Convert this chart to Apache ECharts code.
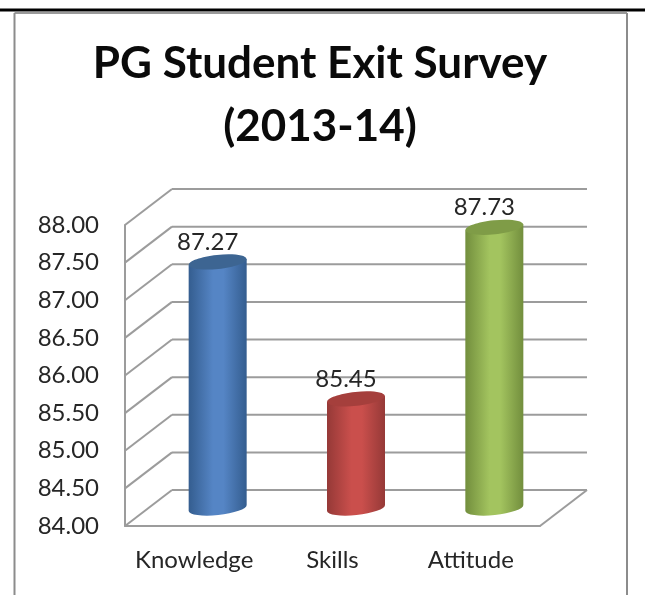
<!DOCTYPE html>
<html><head><meta charset="utf-8">
<style>html,body{margin:0;padding:0;background:#fff}#c{width:645px;height:595px}</style>
<script src="https://cdn.jsdelivr.net/npm/echarts@6/dist/echarts.min.js"></script>
</head><body><div id="c"></div>
<script>
const categories = ['Knowledge', 'Skills', 'Attitude'];
const values = [87.27, 85.45, 87.73];
const yTicks = [84, 84.5, 85, 85.5, 86, 86.5, 87, 87.5, 88];
const bodyLight = ['#5585c5', '#ca4f4c', '#a3c45f'];
const bodyDark = ['#345d8f', '#953937', '#728e3d'];
const capColor = ['#3d6592', '#a53f3c', '#7f9c47'];
const titleText = 'PG Student Exit Survey\n(2013-14)';

const DX = 47, DY = -36, LINE = '#9c9c9c';
const RX = 29, RY = 7, TILT = 3;

const chart = echarts.init(document.getElementById('c'), null, {renderer: 'canvas'});
chart.setOption({
  animation: false,
  backgroundColor: '#fff',
  title: {
    text: titleText, left: 315, top: 27, textAlign: 'center',
    textStyle: {fontFamily: 'Lato', fontWeight: 'bold', fontSize: 44, lineHeight: 63, color: '#0a0a0a'}
  },
  graphic: [
    {type: 'rect', silent: true, shape: {x: 0, y: 8.5, width: 645, height: 3}, style: {fill: '#000'}},
    {type: 'line', silent: true, shape: {x1: 14.5, y1: 13, x2: 627, y2: 13}, style: {stroke: '#9a9a9a', lineWidth: 2}},
    {type: 'line', silent: true, shape: {x1: 14.5, y1: 13, x2: 14.5, y2: 595}, style: {stroke: '#8c8c8c', lineWidth: 2}},
    {type: 'line', silent: true, shape: {x1: 627, y1: 13, x2: 627, y2: 595}, style: {stroke: '#8c8c8c', lineWidth: 2}}
  ],
  grid: {left: 125, top: 225, width: 415, height: 301},
  xAxis: {
    type: 'category', data: categories,
    axisLine: {lineStyle: {color: LINE, width: 2}}, axisTick: {show: false}, splitLine: {show: false},
    axisLabel: {interval: 0, fontFamily: 'Lato', fontSize: 24, color: '#262626', margin: 22}
  },
  yAxis: {
    type: 'value', min: 84, max: 88, interval: 0.5,
    axisLine: {show: true, lineStyle: {color: LINE, width: 2}}, axisTick: {show: false}, splitLine: {show: false},
    axisLabel: {fontFamily: 'Lato', fontSize: 24, color: '#262626', margin: 26, padding: [7, 0, 0, 0], formatter: v => v.toFixed(2)}
  },
  series: [
    {
      type: 'custom', z: 1, silent: true, clip: false,
      data: yTicks.map(t => [0, t]),
      renderItem(params, api) {
        const r = params.coordSys;
        const y = api.coord([0, api.value(1)])[1];
        const style = {stroke: LINE, lineWidth: 2, fill: null};
        const kids = [
          {type: 'line', shape: {x1: r.x, y1: y, x2: r.x + DX, y2: y + DY}, style},
          {type: 'line', shape: {x1: r.x + DX, y1: y + DY, x2: r.x + r.width + DX, y2: y + DY}, style}
        ];
        if (params.dataIndex === 0) {
          kids.push({type: 'line', shape: {x1: r.x + r.width, y1: y, x2: r.x + r.width + DX, y2: y + DY}, style});
        }
        return {type: 'group', children: kids};
      }
    },
    {
      type: 'custom', z: 2, silent: true, clip: false,
      data: values.map((v, i) => [i, v]),
      renderItem(params, api) {
        const i = api.value(0);
        const top = api.coord([i, api.value(1)]);
        const base = api.coord([i, 84]);
        const cx = top[0] + DX / 2;
        const yT = top[1] + DY / 2;
        const yB = base[1] + DY / 2;
        const L = cx - RX, R = cx + RX;
        const path = `M${L} ${yT + TILT}L${L} ${yB + TILT}A${RX} ${RY} -6 0 0 ${R} ${yB - TILT}L${R} ${yT - TILT}Z`;
        const fill = new echarts.graphic.LinearGradient(0, 0, 1, 0, [
          {offset: 0, color: bodyDark[i]},
          {offset: 0.42, color: bodyLight[i]},
          {offset: 0.6, color: bodyLight[i]},
          {offset: 1, color: bodyDark[i]}
        ]);
        return {type: 'group', children: [
          {type: 'path', shape: {pathData: path}, style: {fill}},
          {type: 'ellipse', shape: {cx, cy: yT, rx: RX, ry: RY},
           originX: cx, originY: yT, rotation: 6 * Math.PI / 180,
           style: {fill: capColor[i]}},
          {type: 'text', x: cx - 10, y: yT - 20,
           style: {text: api.value(1).toFixed(2), fontFamily: 'Lato', fontSize: 24, fill: '#262626',
                   align: 'center', verticalAlign: 'middle'}}
        ]};
      }
    }
  ]
});
</script></body></html>
